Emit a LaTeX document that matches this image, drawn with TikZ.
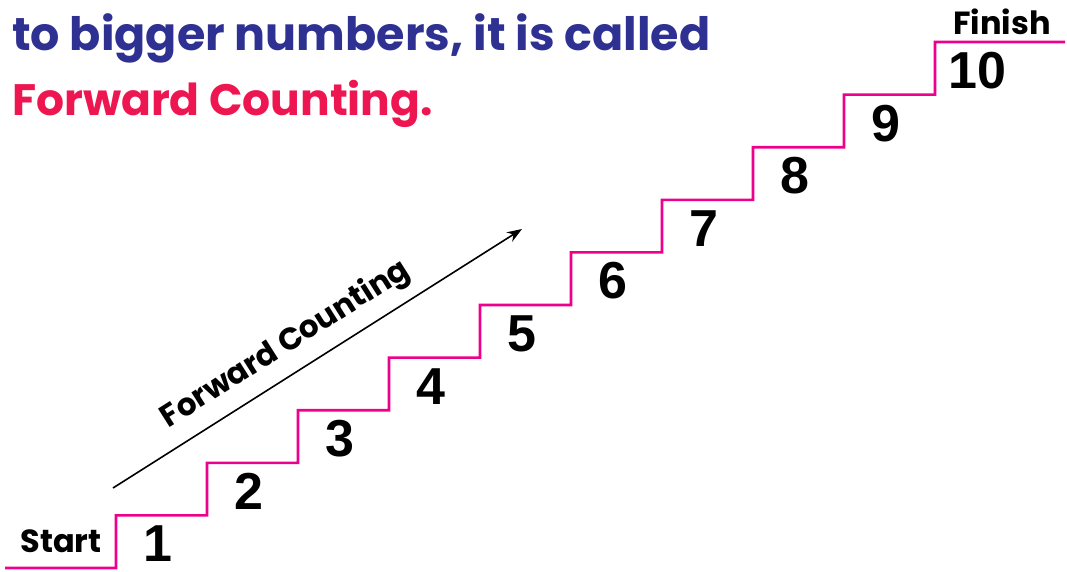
\documentclass[tikz,border=0pt]{standalone}
\usepackage{fontspec}
\setmainfont{Liberation Sans}
\newfontfamily\comicfont{Poppins}
\usetikzlibrary{arrows.meta}
\definecolor{titleblue}{RGB}{46,49,146}
\definecolor{titlered}{RGB}{237,22,81}
\definecolor{stairpink}{RGB}{236,0,140}
\tikzset{
  stair/.style={stairpink, line width=2.6pt, line join=miter},
  stepnum/.style={font=\fontsize{52}{52}\selectfont\bfseries, inner sep=0pt},
  endlabel/.style={font=\comicfont\fontsize{32}{32}\selectfont\bfseries, inner sep=0pt},
  headline/.style={font=\comicfont\fontsize{46}{46}\selectfont\bfseries, inner sep=0pt, anchor=base west}
}
\begin{document}
\begin{tikzpicture}[x=1pt,y=-1pt]
\useasboundingbox (0,0) rectangle (1067,571);

% heading
\node[headline, text=titleblue] (line1) at (12,50) {to bigger numbers, it is called};
\node[headline, text=titlered, font=\comicfont\fontsize{44}{44}\selectfont\bfseries] (line2) at (12,115) {Forward Counting.};

% staircase
\draw[stair] (5,568) -- (116,568)
  \foreach \i in {1,...,9} { -- ++(0,-52.6) -- ++(91,0) }
  -- ++(0,-52.6) -- (1065,42);

% step numbers
\foreach \i in {1,...,10}
  \node[stepnum] (n\i) at ({158+91*(\i-1)},{544-52.6*(\i-1)}) {\i};

\node[endlabel] (start)  at (61,541) {Start};
\node[endlabel] (finish) at (1002,22) {Finish};

% arrow
\coordinate (a1) at (113,488); \coordinate (a2) at (522,229);
\draw[black, line width=1.6pt, -{Stealth[length=15pt,width=11pt]}] (a1) -- (a2)
  node[pos=0.46, sloped, above=11pt, endlabel, font=\comicfont\fontsize{31}{31}\selectfont\bfseries] (fc) {Forward Counting};

\end{tikzpicture}
\end{document}
